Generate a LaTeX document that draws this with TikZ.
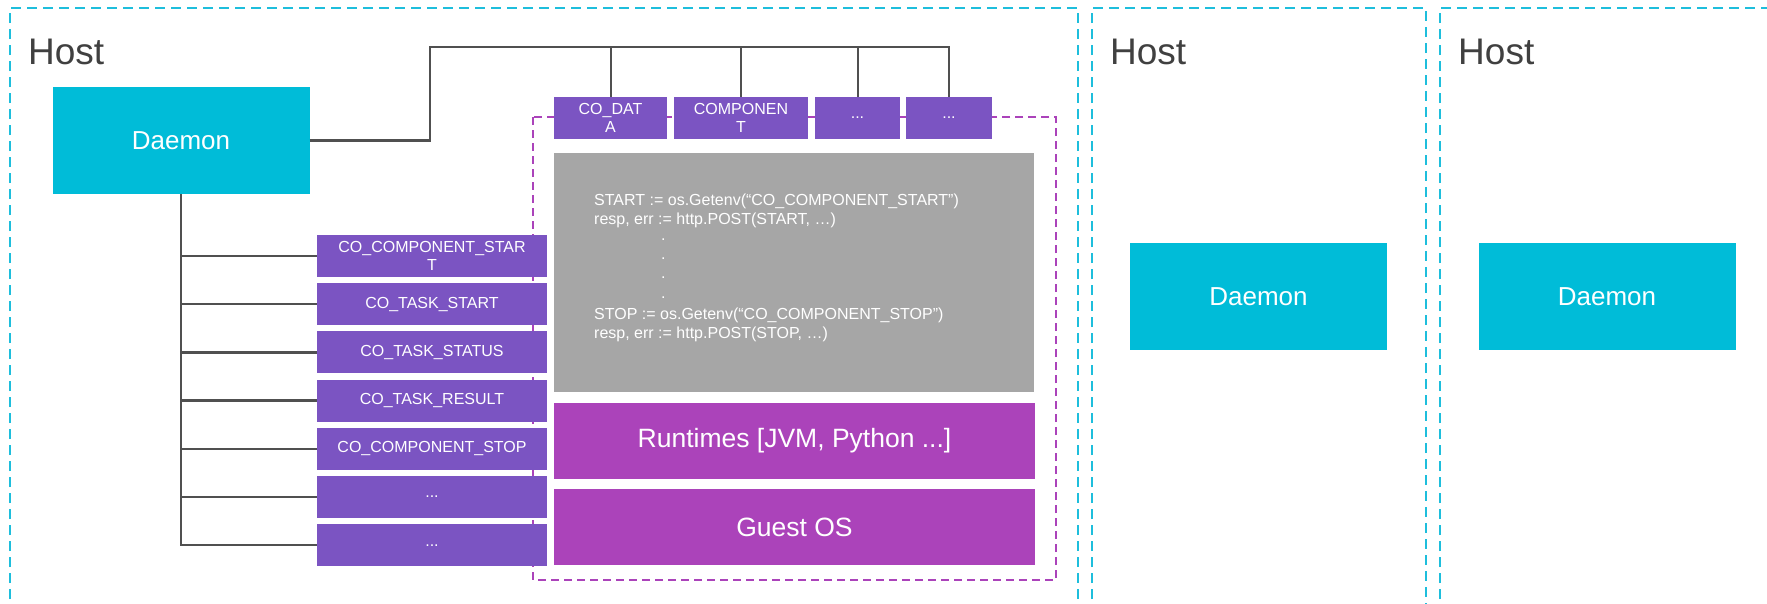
\documentclass[tikz,border=0pt]{standalone}
\usepackage{fontspec}
\setmainfont{Liberation Sans}
\definecolor{hostcyan}{RGB}{30,190,220}
\definecolor{daemoncyan}{RGB}{0,188,216}
\definecolor{envpurple}{RGB}{123,84,194}
\definecolor{layermagenta}{RGB}{171,67,186}
\definecolor{codegray}{RGB}{166,166,166}
\definecolor{wiregray}{RGB}{80,80,80}
\definecolor{hosttext}{RGB}{64,64,64}
\begin{document}
\begin{tikzpicture}[x=1pt,y=-1pt]
\tikzset{
 hostframe/.style={draw=hostcyan, line width=2pt, dash pattern=on 10pt off 6pt},
 containerframe/.style={draw=layermagenta, line width=2pt, dash pattern=on 8pt off 5pt},
 daemonbox/.style={fill=daemoncyan, text=white, minimum width=257pt, minimum height=107pt, inner sep=0pt, font=\fontsize{26}{30}\selectfont},
 envbox/.style={fill=envpurple, text=white, minimum width=230pt, minimum height=42pt, inner sep=0pt, font=\fontsize{16}{17.5}\selectfont, align=center},
 topbox/.style={fill=envpurple, text=white, minimum height=42pt, inner sep=0pt, font=\fontsize{16}{18}\selectfont, align=center},
 layerbox/.style={fill=layermagenta, text=white, minimum width=481pt, minimum height=76pt, inner sep=0pt, font=\fontsize{26.5}{30}\selectfont},
 codebox/.style={fill=codegray, minimum width=480pt, minimum height=239pt, inner sep=0pt},
 codeline/.style={anchor=base west, inner sep=0pt, text=white, font=\fontsize{16}{18}\selectfont},
 hostlabel/.style={anchor=base west, inner sep=0pt, text=hosttext, font=\fontsize{37}{40}\selectfont},
 wire/.style={draw=wiregray, line width=2.5pt},
 thinwire/.style={draw=wiregray, line width=2pt},
}
\useasboundingbox (0,0) rectangle (1767,603);
\clip (0,0) rectangle (1767,603);
\fill[white] (0,0) rectangle (1767,603);

% host frames
\draw[hostframe] (10,615) |- (1078,8) -- (1078,615);
\draw[hostframe] (1092,615) |- (1426,8) -- (1426,615);
\draw[hostframe] (1440,615) |- (1790,8);

\node[hostlabel] (h1) at (28,64) {Host};
\node[hostlabel] (h2) at (1110,64) {Host};
\node[hostlabel] (h3) at (1458,64) {Host};

% container
\draw[containerframe] (533,117) rectangle (1056,580);

% daemons
\node[daemonbox] (d1) at (181,140.5) {Daemon};
\node[daemonbox] (d2) at (1258.5,296.5) {Daemon};
\node[daemonbox] (d3) at (1607,296.5) {Daemon};

% top env boxes
\node[topbox, minimum width=113pt] (t1) at (610.5,118) {CO\_DAT\\A};
\node[topbox, minimum width=134pt] (t2) at (741,118) {COMPONEN\\T};
\node[topbox, minimum width=85pt] (t3) at (857.5,118) {...};
\node[topbox, minimum width=86pt] (t4) at (949,118) {...};

% env list
\node[envbox] (l1) at (432,256) {CO\_COMPONENT\_STAR\\T};
\node[envbox] (l2) at (432,304.2) {CO\_TASK\_START};
\node[envbox] (l3) at (432,352.4) {CO\_TASK\_STATUS};
\node[envbox] (l4) at (432,400.6) {CO\_TASK\_RESULT};
\node[envbox] (l5) at (432,448.8) {CO\_COMPONENT\_STOP};
\node[envbox] (l6) at (432,497) {...};
\node[envbox] (l7) at (432,545.2) {...};

% code and layers
\node[codebox] (code) at (794,272.5) {};
\node[layerbox] (rt) at (794.5,441) {Runtimes [JVM, Python ...]};
\node[layerbox] (os) at (794.5,527) {Guest OS};

\node[codeline] (c1) at (594,205) {START := os.Getenv(“CO\_COMPONENT\_START”)};
\node[codeline] (c2) at (594,224.5) {resp, err := http.POST(START, …)};
\node[codeline] (c3) at (661,240) {.};
\node[codeline] (c4) at (661,259) {.};
\node[codeline] (c5) at (661,278) {.};
\node[codeline] (c6) at (661,298) {.};
\node[codeline] (c7) at (594,319) {STOP := os.Getenv(“CO\_COMPONENT\_STOP”)};
\node[codeline] (c8) at (594,338) {resp, err := http.POST(STOP, …)};

% wires from daemon to env list
\draw[wire] (d1.south) -- (d1.south |- l7.west) -- (l7.west);
\foreach \n in {l1,l2,l3,l4,l5,l6}
  \draw[wire] (d1.south |- \n.west) -- (\n.west);

% wires from daemon to top boxes
\coordinate (bend) at (430,47);
\draw[wire] (d1.east) -| (bend) -- (t4.north |- bend) -- (t4.north);
\foreach \n in {t1,t2,t3}
  \draw[thinwire] (\n.north |- bend) -- (\n.north);
\end{tikzpicture}
\end{document}
